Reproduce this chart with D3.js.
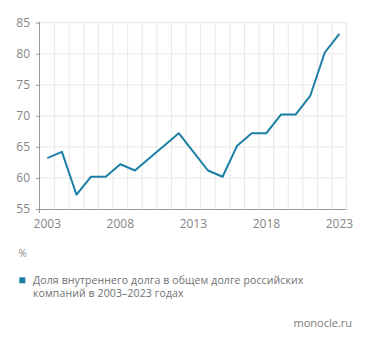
<!DOCTYPE html>
<html><head><meta charset="utf-8">
<script src="https://cdn.jsdelivr.net/npm/d3@7"></script>
<style>
html,body{margin:0;padding:0;background:#fff;}
svg{display:block;}
text{font-family:"Open Sans","Noto Sans",sans-serif;}
</style></head>
<body>
<svg id="c" width="371" height="345"></svg>
<script>
const years = [2003,2004,2005,2006,2007,2008,2009,2010,2011,2012,2013,2014,2015,2016,2017,2018,2019,2020,2021,2022,2023];
const values = [63.2,64.2,57.3,60.2,60.2,62.2,61.2,63.2,65.2,67.2,64.2,61.2,60.2,65.2,67.2,67.2,70.2,70.2,73.2,80.2,83.2];
const yTicks = [55,60,65,70,75,80,85];
const xTickLabels = [2003,2008,2013,2018,2023];
const unitLabel = "%";
const legendLines = ["Доля внутреннего долга в общем долге российских","компаний в 2003–2023 годах"];
const source = "monocle.ru";

const svg = d3.select("#c");
const L = 40, R = 346.7, T = 22.7, B = 209;
const x = d3.scaleBand().domain(years).range([L, R]).padding(0);
const y = d3.scaleLinear().domain([55, 85]).range([B, T]);
const cx = d => x(d) + x.bandwidth()/2;
const lineColor = "#1b7fa6";

// horizontal grid
svg.append("g").selectAll("line").data(yTicks.slice(1)).join("line")
  .attr("x1", L).attr("x2", R).attr("y1", d => y(d)).attr("y2", d => y(d))
  .attr("stroke", "#e8e8e8").attr("stroke-width", 1);
// vertical grid at band edges
svg.append("g").selectAll("line").data(years.slice(1).concat(["end"])).join("line")
  .attr("x1", d => d === "end" ? R : x(d)).attr("x2", d => d === "end" ? R : x(d))
  .attr("y1", T).attr("y2", B)
  .attr("stroke", "#e8e8e8").attr("stroke-width", 1);

// y axis
const yAxis = svg.append("g").attr("transform", `translate(${L},0)`)
  .call(d3.axisLeft(y).tickValues(yTicks).tickSize(4).tickPadding(6));
yAxis.select(".domain").attr("stroke", "#9a9a9a").attr("d", `M-0.5,${T-1}V${B+4}`);
yAxis.selectAll(".tick line").attr("stroke", "#9a9a9a");
yAxis.selectAll("text").attr("fill", "#858585").attr("font-size", 12);

// x axis
const xAxis = svg.append("g").attr("transform", `translate(0,${B})`)
  .call(d3.axisBottom(x).tickValues(xTickLabels).tickSize(0).tickPadding(10));
xAxis.select(".domain").attr("stroke", "#9a9a9a").attr("d", `M${L},0.5H${R}`);
xAxis.selectAll("text").attr("fill", "#858585").attr("font-size", 12);

// line
const line = d3.line().x((d,i) => cx(years[i])).y(d => y(d));
svg.append("path").datum(values).attr("d", line)
  .attr("fill", "none").attr("stroke", lineColor).attr("stroke-width", 2)
  .attr("stroke-linejoin", "round");

// unit label
svg.append("text").attr("x", 18.5).attr("y", 256.5).text(unitLabel)
  .attr("fill", "#8a8a8a").attr("font-size", 10);

// legend
svg.append("rect").attr("x", 19.3).attr("y", 277.3).attr("width", 6).attr("height", 6).attr("fill", lineColor);
svg.append("g").attr("font-size", 10.5).attr("fill", "#707070").attr("letter-spacing", 0.12)
  .selectAll("text").data(legendLines).join("text")
  .attr("x", 33).attr("y", (d,i) => 284 + i*13).text(d => d);

// source
svg.append("text").attr("x", 352).attr("y", 327).attr("text-anchor", "end")
  .attr("font-size", 11).attr("fill", "#7a7a7a").text(source);
</script>
</body></html>
